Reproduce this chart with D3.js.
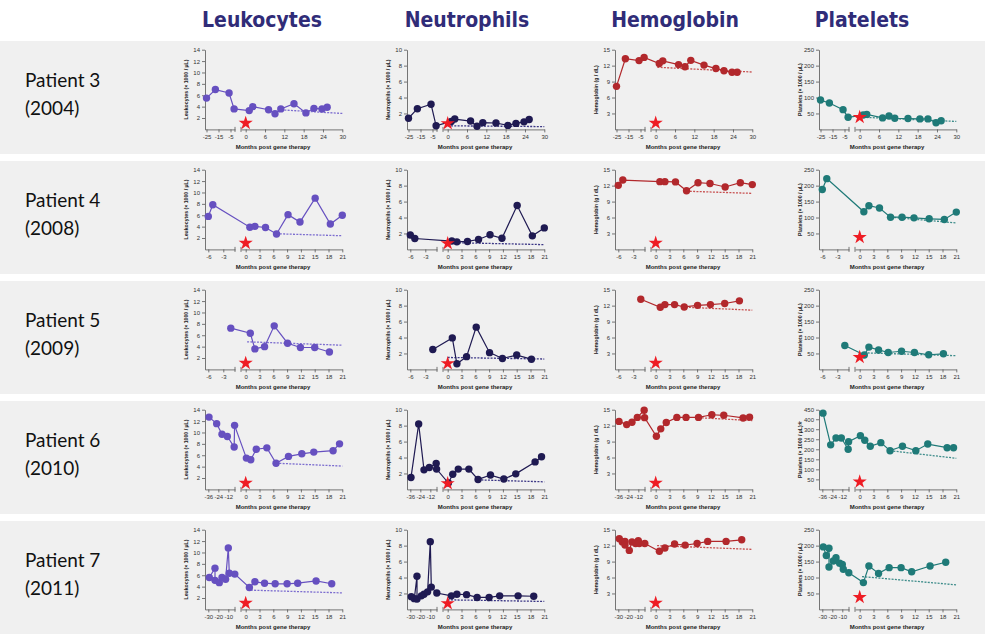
<!DOCTYPE html>
<html>
<head>
<meta charset="utf-8">
<script src="https://cdn.jsdelivr.net/npm/d3@7"></script>
<style>
  body { margin: 0; background: #ffffff; }
  svg { display: block; }
</style>
</head>
<body>
<svg id="chart" width="985" height="641"></svg>
<script>
// ---------------- data ----------------
const measures = ["Leukocytes", "Neutrophils", "Hemoglobin", "Platelets"];
const axisTitles = ["Leukocytes (\u00d7 1000 / \u00b5L)", "Neutrophils (\u00d7 1000 / \u00b5L)",
                    "Hemoglobin (g / dL)", "Platelets (\u00d7 1000 / \u00b5L)"];
const xTitle = "Months post gene therapy";
const patientNames = ["Patient 3", "Patient 4", "Patient 5", "Patient 6", "Patient 7"];
const patientYears = ["(2004)", "(2008)", "(2009)", "(2010)", "(2011)"];

// y ticks per measure
const leukTicks = [2, 4, 6, 8, 10, 12, 14];
const neutTicks = [2, 4, 6, 8, 10];
const hbTicks = [3, 6, 9, 12, 15];
const pltTicks = [50, 100, 150, 200, 250];
const pltTicksP6 = [50, 100, 150, 200, 250, 300, 400, 450];

// x ticks per patient (before / after gene therapy)
const preTicksP3 = [-25, -15, -5];
const postTicksP3 = [0, 6, 12, 18, 24, 30];
const preTicksP4 = [-6, -3];
const preTicksP5 = [-6, -3];
const preTicksP6 = [-36, -24, -12];
const preTicksP7 = [-30, -20, -10];
const postTicks21 = [0, 3, 6, 9, 12, 15, 18, 21];

// Patient 3
const p3Months = [-25, -17.6, -6.2, -2, 1.1, 2.2, 7.1, 9.1, 10.9, 15, 18.7, 21.2, 23.7, 25.3];
const p3Leuk = [5.5, 7.0, 6.4, 3.6, 3.3, 4.0, 3.45, 2.75, 3.6, 4.5, 2.9, 3.7, 3.6, 3.9];
const p3Neut = [1.4, 2.6, 3.15, 0.45, 1.0, 1.3, 1.05, 0.4, 0.85, 0.8, 0.5, 0.75, 0.95, 1.25];
const p3Hb = [8.1, 13.3, 12.95, 13.55, 12.4, 12.9, 12.2, 11.8, 13.0, 12.1, 11.45, 11.05, 10.75, 10.75];
const p3Plt = [92, 83, 62, 38, 45, 47, 36, 42, 35, 34, 33, 33, 21, 27];

// Patient 4
const p4Months = [-6, -5.1, 0.9, 2.0, 4.3, 6.7, 9.2, 11.8, 15.1, 18.4, 21];
const p4Leuk = [5.8, 7.85, 3.9, 4.05, 3.85, 2.7, 6.1, 4.8, 9.0, 4.45, 6.0];
const p4Neut = [1.8, 1.37, 1.05, 0.95, 1.0, 1.24, 1.83, 1.4, 5.5, 1.7, 2.7];
const p4Hb = [12.05, 13.05, 12.75, 12.75, 12.7, 11.05, 12.55, 12.4, 11.75, 12.55, 12.2];
const p4Plt = [188, 222, 118, 137, 130, 101, 101, 99, 96, 94, 117];

// Patient 5
const p5Months = [-1.5, 1.0, 2.0, 4.1, 6.2, 9.1, 11.9, 15.0, 18.2];
const p5Leuk = [7.25, 6.35, 3.6, 4.0, 7.65, 4.6, 3.85, 3.85, 3.05];
const p5Neut = [2.5, 3.95, 0.7, 1.6, 5.3, 2.1, 1.37, 1.8, 1.28];
const p5Hb = [13.2, 11.7, 12.2, 12.2, 11.75, 12.05, 12.2, 12.4, 12.9];
const p5Plt = [75, 45, 70, 61, 53, 57, 53, 46, 49];

// Patient 6
const p6Months = [-35.2, -26, -19.6, -13.2, -5, -4.5, 0.15, 1.1, 2.3, 4.6, 6.6, 9.3, 12.2, 14.8, 19, 20.4];
const p6Leuk = [12.7, 11.55, 9.7, 9.3, 7.45, 11.25, 5.5, 5.2, 7.05, 7.3, 4.6, 5.8, 6.25, 6.55, 6.8, 8.0];
const p6Neut = [1.5, 8.2, 2.45, 2.75, 3.25, 2.55, 0.8, 1.9, 2.55, 2.55, 1.25, 1.8, 1.3, 1.95, 3.45, 4.1];
const p6Hb = [12.8, 12.2, 12.65, 13.55, 14.9, 13.5, 10.0, 11.4, 12.6, 13.55, 13.55, 13.55, 14.05, 13.95, 13.45, 13.6];
const p6Plt = [432, 222, 256, 256, 200, 238, 268, 245, 215, 233, 193, 215, 193, 226, 208, 208];

// Patient 7
const p7LeukMonths = [-29, -23.3, -23.3, -19, -16.3, -12.7, -10, -9, -3.5, 0.8, 2, 4.1, 6.4, 9, 11.3, 15.3, 18.7];
const p7Leuk = [5.6, 7.25, 5.1, 4.7, 5.6, 5.3, 10.8, 6.35, 6.2, 3.85, 4.85, 4.6, 4.5, 4.5, 4.6, 5.0, 4.5];
const p7Months = [-29, -26, -23.3, -23.3, -19, -16.3, -12.7, -10, -9, -3.5, 0.8, 2, 4.1, 6.4, 9, 11.3, 15.3, 18.7];
const p7Neut = [1.6, 1.35, 4.15, 1.3, 1.7, 1.9, 2.2, 8.5, 2.8, 2.05, 1.7, 1.9, 1.85, 1.5, 1.5, 1.7, 1.7, 1.65];
const p7Hb = [13.3, 12.7, 12.8, 12.1, 11.1, 12.7, 12.4, 12.95, 12.4, 12.4, 10.95, 11.55, 12.3, 12.1, 12.4, 12.8, 12.8, 13.1];
const p7Plt = [196, 169, 192, 133, 152, 162, 145, 141, 126, 115, 84, 136, 113, 131, 131, 118, 136, 148];

// linear trend after therapy: [month start, value start, month end, value end]
const p3Trends = [[12, 3.4, 30, 2.8], [0, 0.45, 30, 0.35], [0.5, 11.7, 30, 10.8], [1, 38, 30, 25]];
const p4Trends = [[6.7, 2.75, 21, 2.4], [1, 0.85, 21, 0.6], [6.7, 10.95, 21, 10.55], [6.8, 101, 21, 83]];
const p5Trends = [[0.3, 4.85, 21, 4.25], [0, 1.5, 21, 1.3], [6.5, 11.7, 21, 11.15], [1, 52, 21, 43]];
const p6Trends = [[6.6, 4.6, 21, 4.1], [6.6, 1.2, 21, 0.95], [9.3, 13.5, 21, 12.95], [6.6, 193, 21, 155]];
const p7Trends = [[0.4, 3.4, 21, 2.9], [0, 1.2, 21, 1.0], [0.3, 12.0, 21, 11.3], [0.5, 103, 21, 77]];

// ---------------- styling ----------------
const colors = ["#6650c0", "#1f1a52", "#b2282c", "#1f7a78"];
const trendColors = ["#7c6dcf", "#3b3685", "#c75050", "#3d8c8a"];
const starColor = "#ee1c24";
const headerColor = "#302c78";
const axisColor = "#555";

// star sits just above the x axis at month 0
const starLevel = [1.1, 0.75, 1.2, 38];

const rows = [
  { pre: preTicksP3, post: postTicksP3, preDomain: [-26.25, -1.25],
    panels: [[p3Months, p3Leuk], [p3Months, p3Neut], [p3Months, p3Hb], [p3Months, p3Plt]], trends: p3Trends },
  { pre: preTicksP4, post: postTicks21, preDomain: [-6.66, -0.66],
    panels: [[p4Months, p4Leuk], [p4Months, p4Neut], [p4Months, p4Hb], [p4Months, p4Plt]], trends: p4Trends },
  { pre: preTicksP5, post: postTicks21, preDomain: [-6.66, -0.66],
    panels: [[p5Months, p5Leuk], [p5Months, p5Neut], [p5Months, p5Hb], [p5Months, p5Plt]], trends: p5Trends },
  { pre: preTicksP6, post: postTicks21, preDomain: [-40, -4],
    panels: [[p6Months, p6Leuk], [p6Months, p6Neut], [p6Months, p6Hb], [p6Months, p6Plt]], trends: p6Trends },
  { pre: preTicksP7, post: postTicks21, preDomain: [-33.3, -3.3],
    panels: [[p7LeukMonths, p7Leuk], [p7Months, p7Neut], [p7Months, p7Hb], [p7Months, p7Plt]], trends: p7Trends }
];

const yTickSets = [leukTicks, neutTicks, hbTicks, pltTicks];
const yMax = [14, 10, 15, 250];

// ---------------- layout ----------------
const colX = [205, 407, 615, 819];     // y axis position of each column
const headerX = [262, 467, 675, 862];
const plotH = 79.7;
const rowTop = i => 49.7 + 120 * i;
const preW = 30, postStart = 36, postEnd = 137.3, zeroAt = 40.7;

const svg = d3.select("#chart");

// row bands
svg.selectAll("rect.band").data(patientNames).join("rect")
  .attr("class", "band")
  .attr("x", 0).attr("width", 985)
  .attr("y", (d, i) => 41 + 120 * i).attr("height", 113)
  .attr("fill", "#f0f0f0");

// column headers
svg.selectAll("text.header").data(measures).join("text")
  .attr("class", "header")
  .attr("x", (d, i) => headerX[i]).attr("y", 27)
  .attr("text-anchor", "middle")
  .attr("font-family", "'Liberation Sans Narrow', 'DejaVu Sans Condensed', sans-serif")
  .attr("font-weight", "bold").attr("font-size", 21)
  .attr("fill", headerColor)
  .text(d => d);

// patient labels
patientNames.forEach((name, i) => {
  const g = svg.append("g").attr("font-family", "Lato, 'Open Sans', sans-serif")
    .attr("font-size", 19).attr("fill", "#111");
  g.append("text").attr("x", 25).attr("y", rowTop(i) + 37).text(name);
  g.append("text").attr("x", 25).attr("y", rowTop(i) + 65).text(patientYears[i]);
});

const starPath = d3.symbol().type(d3.symbolStar).size(62)();
const fmt = d => String(d);

rows.forEach((row, r) => {
  const top = rowTop(r), base = top + plotH;
  row.panels.forEach(([months, values], c) => {
    const X0 = colX[c];
    const g = svg.append("g");

    // y scale (platelets of patient 6 use a broken axis above 300)
    let y, yTicks;
    if (r === 3 && c === 3) {
      y = d3.scaleLinear().domain([0, 300, 400, 450])
        .range([base, base - plotH * 0.755, base - plotH * 0.88, top]);
      yTicks = pltTicksP6;
    } else {
      y = d3.scaleLinear().domain([0, yMax[c]]).range([base, top]);
      yTicks = yTickSets[c];
    }

    const xPre = d3.scaleLinear().domain(row.preDomain).range([X0, X0 + preW]);
    const pMax = row.post[row.post.length - 1];
    const k = (zeroAt - postStart) / (postEnd - zeroAt);
    const xPost = d3.scaleLinear().domain([-k * pMax, pMax]).range([X0 + postStart, X0 + postEnd]);
    const xOf = t => (t < 0 ? xPre(t) : xPost(t));

    // axes
    const styleAxis = sel => {
      sel.select(".domain").attr("stroke", axisColor).attr("stroke-width", 0.8);
      sel.selectAll(".tick line").attr("stroke", axisColor).attr("stroke-width", 0.8);
      sel.selectAll(".tick text").attr("fill", "#333")
        .attr("font-family", "'Liberation Sans', Arial, sans-serif").attr("font-size", 6);
    };
    g.append("g").attr("transform", `translate(${X0},0)`)
      .call(d3.axisLeft(y).tickValues(yTicks).tickSize(3).tickSizeOuter(0).tickPadding(2).tickFormat(fmt))
      .call(styleAxis);
    g.append("g").attr("transform", `translate(0,${base})`)
      .call(d3.axisBottom(xPre).tickValues(row.pre).tickSize(3).tickSizeOuter(0).tickPadding(2).tickFormat(fmt))
      .call(styleAxis);
    g.append("g").attr("transform", `translate(0,${base})`)
      .call(d3.axisBottom(xPost).tickValues(row.post).tickSize(3).tickSizeOuter(0).tickPadding(2).tickFormat(fmt))
      .call(styleAxis);

    // break marks at the gap of the x axis
    [X0 + preW, X0 + postStart].forEach(bx => {
      g.append("line").attr("x1", bx).attr("x2", bx)
        .attr("y1", base - 2.5).attr("y2", base + 2.5)
        .attr("stroke", axisColor).attr("stroke-width", 0.8);
    });

    // axis titles
    g.append("text")
      .attr("x", X0 + 68).attr("y", base + 19.5)
      .attr("text-anchor", "middle")
      .attr("font-family", "'Liberation Sans', Arial, sans-serif")
      .attr("font-weight", "bold").attr("font-size", 6).attr("fill", "#222")
      .text(xTitle);
    const yt = g.append("text")
      .attr("transform", `translate(${X0 - 17},${top + plotH / 2}) rotate(-90)`)
      .attr("text-anchor", "middle")
      .attr("font-family", "'Liberation Sans', Arial, sans-serif")
      .attr("font-weight", "bold").attr("font-size", 5.2).attr("fill", "#222");
    yt.append("tspan").text(axisTitles[c]);
    if (r === 3 && c === 3) {
      yt.append("tspan").attr("font-size", 11).attr("font-weight", "normal").attr("dy", 3.5).text("*");
    }

    // trend line
    const [t1, v1, t2, v2] = row.trends[c];
    g.append("line")
      .attr("x1", xOf(t1)).attr("y1", y(v1)).attr("x2", xOf(t2)).attr("y2", y(v2))
      .attr("stroke", trendColors[c]).attr("stroke-width", 1.3)
      .attr("stroke-dasharray", "2,1.3");

    // series line and markers
    const pts = months.map((t, i) => [t, values[i]]);
    g.append("path").datum(pts)
      .attr("d", d3.line().x(d => xOf(d[0])).y(d => y(d[1])))
      .attr("fill", "none").attr("stroke", colors[c]).attr("stroke-width", 1.2);
    g.selectAll("circle.pt").data(pts).join("circle")
      .attr("class", "pt")
      .attr("cx", d => xOf(d[0])).attr("cy", d => y(d[1])).attr("r", 3.7)
      .attr("fill", colors[c]);

    // gene therapy marker at month 0
    g.append("path").attr("d", starPath)
      .attr("transform", `translate(${xPost(0)},${y(starLevel[c])})`)
      .attr("fill", starColor);
  });
});
</script>
</body>
</html>
